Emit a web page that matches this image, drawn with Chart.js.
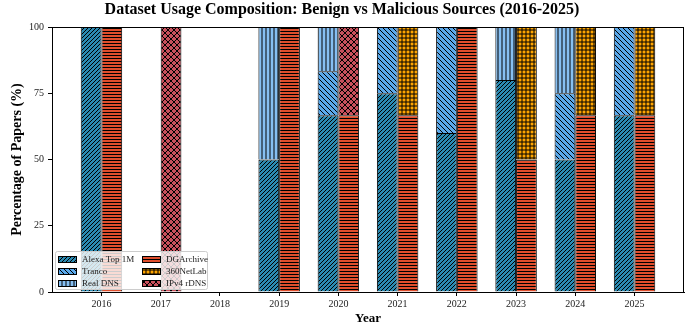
<!DOCTYPE html>
<html>
<head>
<meta charset="utf-8">
<script src="https://cdn.jsdelivr.net/npm/chart.js@4/dist/chart.umd.min.js"></script>
<style>
  html, body { margin: 0; padding: 0; background: #fff; }
  #wrap { width: 696px; height: 329px; }
</style>
</head>
<body>
<div id="wrap"><canvas id="chart" width="696" height="329"></canvas></div>
<script>
const years = [2016, 2017, 2018, 2019, 2020, 2021, 2022, 2023, 2024, 2025];

// benign sources (left bar of each year)
const alexaTop1M = [100, 0, 0, 50, 66.67, 75, 60, 80, 50, 66.67];
const tranco     = [0, 0, 0, 0, 16.67, 25, 40, 0, 25, 33.33];
const realDns    = [0, 0, 0, 50, 16.66, 0, 0, 20, 25, 0];

// malicious sources (right bar of each year)
const dgArchive  = [100, 0, 0, 100, 66.67, 66.67, 100, 50, 66.67, 66.67];
const netLab360  = [0, 0, 0, 0, 0, 33.33, 0, 50, 33.33, 33.33];
const ipv4Rdns   = [0, 100, 0, 0, 33.33, 0, 0, 0, 0, 0];

const yTicks = [0, 25, 50, 75, 100];

const SERIF = '"Liberation Serif", "DejaVu Serif", serif';

// small canvas tiles used as hatch fills
function hatch(bg, kind, size) {
  const c = document.createElement('canvas');
  c.width = size;
  c.height = size;
  const g = c.getContext('2d');
  g.fillStyle = bg;
  g.fillRect(0, 0, size, size);
  g.strokeStyle = '#000';
  g.lineWidth = 1;
  const line = (x1, y1, x2, y2) => {
    g.beginPath();
    g.moveTo(x1, y1);
    g.lineTo(x2, y2);
    g.stroke();
  };
  const fwd = () => {
    line(-1, size + 1, size + 1, -1);
    line(-1, 1, 1, -1);
    line(size - 1, size + 1, size + 1, size - 1);
  };
  const back = () => {
    line(-1, -1, size + 1, size + 1);
    line(size - 1, -1, size + 1, 1);
    line(-1, size - 1, 1, size + 1);
  };
  if (kind === '/') fwd();
  if (kind === '\\') back();
  if (kind === 'x') { fwd(); back(); }
  if (kind === '-' || kind === '+') line(0, size / 2, size, size / 2);
  if (kind === '|' || kind === '+') line(size / 2, 0, size / 2, size);
  return g.createPattern(c, 'repeat');
}

const styles = {
  alexa:  hatch('#2b8ab2', '/', 4),
  tranco: hatch('#5aa8ea', '\\', 5),
  real:   hatch('#86bff2', '|', 4),
  dga:    hatch('#e04e2c', '-', 3),
  netlab: hatch('#ffa500', '+', 4),
  rdns:   hatch('#c9505c', 'x', 6)
};

function series(label, values, stack, fill) {
  return {
    label,
    // empty segments are left out so they draw no edge
    data: years.map((yr, i) => ({ x: yr, y: values[i] === 0 ? null : values[i] })),
    stack,
    backgroundColor: fill,
    borderColor: '#000',
    borderWidth: { top: 1, left: 1, right: 1, bottom: 0 },
    borderSkipped: false
  };
}

const datasets = [
  series('Alexa Top 1M', alexaTop1M, 'benign', styles.alexa),
  series('Tranco', tranco, 'benign', styles.tranco),
  series('Real DNS', realDns, 'benign', styles.real),
  series('DGArchive', dgArchive, 'malicious', styles.dga),
  series('360NetLab', netLab360, 'malicious', styles.netlab),
  series('IPv4 rDNS', ipv4Rdns, 'malicious', styles.rdns)
];

// frame around the plot area (top and right spines)
const frame = {
  id: 'frame',
  afterDatasetsDraw(chart) {
    const { ctx, chartArea: a } = chart;
    ctx.save();
    ctx.strokeStyle = '#000';
    ctx.lineWidth = 1;
    ctx.strokeRect(Math.round(a.left) + 0.5, Math.round(a.top) + 0.5,
      Math.round(a.right - a.left) - 1, Math.round(a.bottom - a.top));
    ctx.restore();
  }
};

// two column legend in the lower left corner
const boxLegend = {
  id: 'boxLegend',
  afterDraw(chart) {
    const { ctx, chartArea: a } = chart;
    const x0 = a.left + 3, y0 = a.bottom - 41;
    const w = 152, h = 38;
    ctx.save();
    ctx.fillStyle = 'rgba(255,255,255,0.8)';
    ctx.strokeStyle = '#cccccc';
    ctx.lineWidth = 1;
    ctx.beginPath();
    ctx.roundRect(x0 + 0.5, y0 + 0.5, w, h, 2);
    ctx.fill();
    ctx.stroke();
    ctx.font = '9px ' + SERIF;
    ctx.textBaseline = 'middle';
    chart.data.datasets.forEach((ds, i) => {
      const col = Math.floor(i / 3), row = i % 3;
      const sx = x0 + 3 + col * 84;
      const cy = y0 + 8 + row * 12;
      ctx.fillStyle = ds.backgroundColor;
      ctx.fillRect(sx, cy - 3, 19, 7);
      ctx.strokeStyle = '#000';
      ctx.strokeRect(sx + 0.5, cy - 2.5, 18, 6);
      ctx.fillStyle = '#222';
      ctx.fillText(ds.label, sx + 24, cy + 0.5);
    });
    ctx.restore();
  }
};

new Chart(document.getElementById('chart'), {
  type: 'bar',
  data: { datasets },
  plugins: [frame, boxLegend],
  options: {
    responsive: false,
    animation: false,
    devicePixelRatio: 1,
    layout: { padding: { left: 0, right: 12, top: 0, bottom: 0 } },
    datasets: {
      bar: { categoryPercentage: 0.7, barPercentage: 1.0 }
    },
    plugins: {
      legend: { display: false },
      tooltip: { enabled: false },
      title: {
        display: true,
        text: 'Dataset Usage Composition: Benign vs Malicious Sources (2016-2025)',
        color: '#000',
        font: { family: SERIF, size: 16, weight: 'bold', lineHeight: 1.2 },
        padding: { top: 0, bottom: 7.8 }
      }
    },
    scales: {
      x: {
        type: 'linear',
        offset: false,
        min: 2015.165,
        max: 2025.835,
        stacked: true,
        afterBuildTicks: (scale) => { scale.ticks = years.map(v => ({ value: v })); },
        afterFit: (scale) => { scale.height = 37; },
        grid: { display: true, offset: false, drawOnChartArea: false, drawTicks: true, tickLength: 4, color: '#000' },
        border: { display: true, color: '#000', width: 1 },
        ticks: {
          color: '#222',
          padding: 2,
          font: { family: SERIF, size: 10 },
          callback: (v) => String(v)
        },
        title: {
          display: true,
          text: 'Year',
          color: '#000',
          font: { family: SERIF, size: 13, weight: 'bold', lineHeight: 1.2 },
          padding: { top: 0, bottom: 3 }
        }
      },
      y: {
        stacked: true,
        min: 0,
        max: 100,
        afterBuildTicks: (scale) => { scale.ticks = yTicks.map(v => ({ value: v })); },
        afterFit: (scale) => { scale.width = 52; },
        grid: { display: true, offset: false, drawOnChartArea: false, drawTicks: true, tickLength: 4, color: '#000' },
        border: { display: true, color: '#000', width: 1 },
        ticks: {
          color: '#222',
          padding: 4,
          font: { family: SERIF, size: 10 }
        },
        title: {
          display: true,
          text: 'Percentage of Papers (%)',
          color: '#000',
          font: { family: SERIF, size: 14, weight: 'bold', lineHeight: 1.2 },
          padding: { top: 9, bottom: 0 }
        }
      }
    }
  }
});
</script>
</body>
</html>
